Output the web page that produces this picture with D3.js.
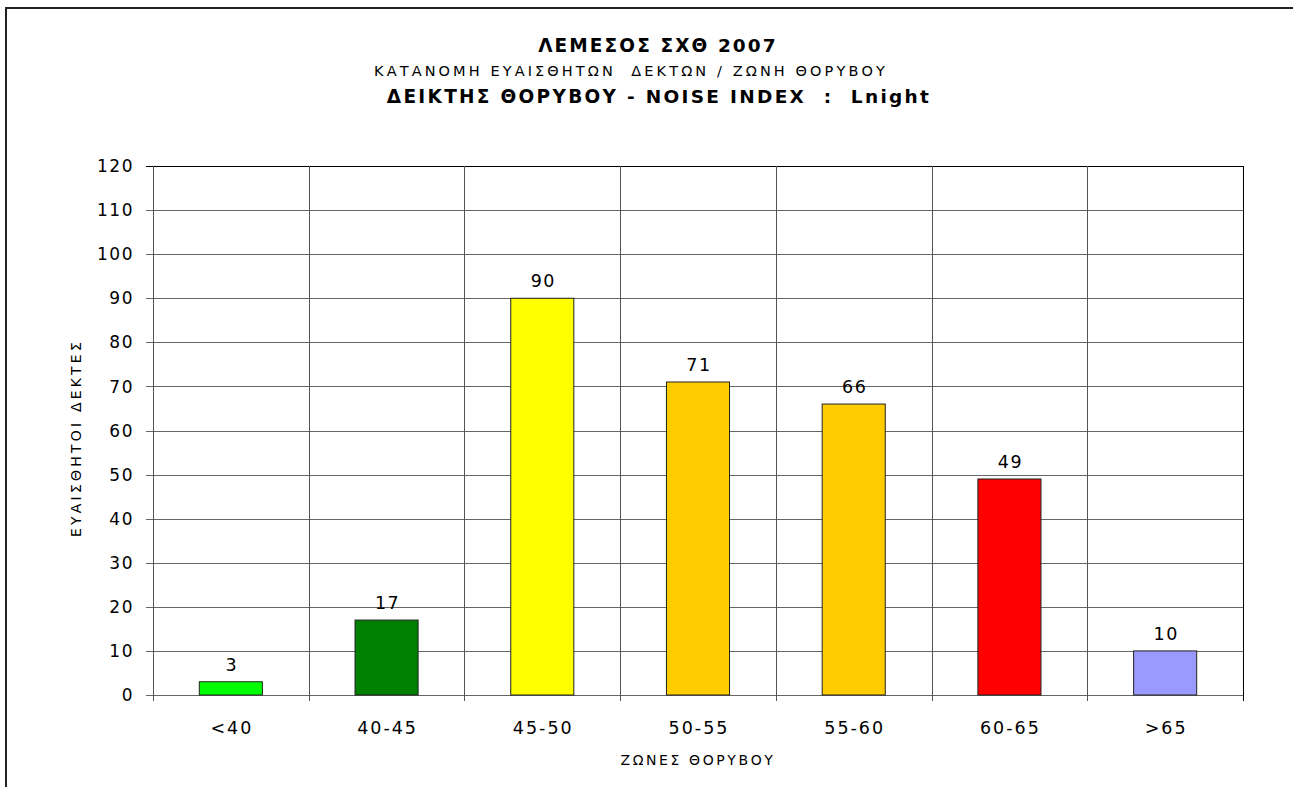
<!DOCTYPE html>
<html>
<head>
<meta charset="utf-8">
<script src="https://cdn.jsdelivr.net/npm/d3@7"></script>
<style>
body { margin: 0; background: #fff; }
svg text { font-family: "DejaVu Sans", Verdana, sans-serif; fill: #000; }
</style>
</head>
<body>
<svg width="1293" height="787"></svg>
<script>
var categories = ["<40", "40-45", "45-50", "50-55", "55-60", "60-65", ">65"];
var values = [3, 17, 90, 71, 66, 49, 10];
var barColors = ["#00ff00", "#008000", "#ffff00", "#ffcc00", "#ffcc00", "#ff0000", "#9999ff"];
var yTicks = [0, 10, 20, 30, 40, 50, 60, 70, 80, 90, 100, 110, 120];

var svg = d3.select("svg");

// outer frame
svg.append("path")
    .attr("d", "M6,787 L6,8 L1293,8")
    .attr("fill", "none")
    .attr("stroke", "#222")
    .attr("stroke-width", 2);

var plotL = 153, plotR = 1243, plotT = 166, plotB = 695;

var xScale = d3.scaleBand().domain(categories).range([plotL, plotR]);
var yScale = d3.scaleLinear().domain([0, 120]).range([plotB, plotT]);

// horizontal gridlines
svg.selectAll(".hgrid")
    .data(yTicks)
    .enter()
    .append("line")
    .attr("x1", plotL - 7)
    .attr("x2", plotR)
    .attr("y1", function (d) { return Math.round(yScale(d)) + 0.5; })
    .attr("y2", function (d) { return Math.round(yScale(d)) + 0.5; })
    .attr("stroke", function (d) { return d === 120 ? "#000" : "#666"; })
    .attr("stroke-width", 1);

// vertical gridlines at category borders
var borders = categories.map(function (c) { return xScale(c); });
svg.selectAll(".vgrid")
    .data(borders)
    .enter()
    .append("line")
    .attr("x1", function (d) { return Math.round(d) + 0.5; })
    .attr("x2", function (d) { return Math.round(d) + 0.5; })
    .attr("y1", plotT)
    .attr("y2", plotB + 6)
    .attr("stroke", "#555")
    .attr("stroke-width", 1);

// right border of plot
svg.append("line")
    .attr("x1", plotR + 0.5).attr("x2", plotR + 0.5)
    .attr("y1", plotT).attr("y2", plotB + 6)
    .attr("stroke", "#000");

// y tick labels
svg.selectAll(".ylab")
    .data(yTicks)
    .enter()
    .append("text")
    .attr("x", plotL - 19)
    .attr("y", function (d) { return yScale(d); })
    .attr("dy", "0.36em")
    .attr("text-anchor", "end")
    .style("font-size", "17px")
    .style("letter-spacing", "1.5px")
    .text(function (d) { return d; });

// bars
var bw = xScale.bandwidth() * 0.405;
svg.selectAll(".bar")
    .data(values)
    .enter()
    .append("rect")
    .attr("x", function (d, i) { return xScale(categories[i]) + xScale.bandwidth() / 2 - bw / 2; })
    .attr("y", function (d) { return yScale(d); })
    .attr("width", bw)
    .attr("height", function (d) { return yScale(0) - yScale(d); })
    .attr("fill", function (d, i) { return barColors[i]; })
    .attr("stroke", "#222")
    .attr("stroke-width", 1);

// value labels
svg.selectAll(".val")
    .data(values)
    .enter()
    .append("text")
    .attr("x", function (d, i) { return xScale(categories[i]) + xScale.bandwidth() / 2 + 1; })
    .attr("y", function (d) { return yScale(d) - 11; })
    .attr("text-anchor", "middle")
    .style("font-size", "17.5px")
    .style("letter-spacing", "1.5px")
    .text(function (d) { return d; });

// category labels
svg.selectAll(".cat")
    .data(categories)
    .enter()
    .append("text")
    .attr("x", function (d) { return xScale(d) + xScale.bandwidth() / 2 + 1; })
    .attr("y", 734)
    .attr("text-anchor", "middle")
    .style("font-size", "17.5px")
    .style("letter-spacing", "2px")
    .text(function (d) { return d; });

// axis titles
svg.append("text")
    .attr("x", (plotL + plotR) / 2)
    .attr("y", 765)
    .attr("text-anchor", "middle")
    .style("font-size", "14px")
    .style("letter-spacing", "2.6px")
    .text("ΖΩΝΕΣ ΘΟΡΥΒΟΥ");

svg.append("text")
    .attr("transform", "translate(81,438) rotate(-90)")
    .attr("text-anchor", "middle")
    .style("font-size", "14px")
    .style("letter-spacing", "3.2px")
    .text("ΕΥΑΙΣΘΗΤΟΙ ΔΕΚΤΕΣ");

// titles
svg.append("text")
    .attr("x", 658).attr("y", 52)
    .attr("text-anchor", "middle")
    .style("font-size", "18.5px")
    .style("font-weight", "bold")
    .style("letter-spacing", "2.1px")
    .text("ΛΕΜΕΣΟΣ ΣΧΘ 2007");

svg.append("text")
    .attr("x", 631).attr("y", 76)
    .attr("text-anchor", "middle")
    .style("font-size", "14.5px")
    .style("letter-spacing", "3.1px")
    .style("white-space", "pre")
    .text("ΚΑΤΑΝΟΜΗ ΕΥΑΙΣΘΗΤΩΝ  ΔΕΚΤΩΝ / ΖΩΝΗ ΘΟΡΥΒΟΥ");

svg.append("text")
    .attr("x", 659).attr("y", 103)
    .attr("text-anchor", "middle")
    .style("font-size", "18.5px")
    .style("font-weight", "bold")
    .style("letter-spacing", "2.3px")
    .style("white-space", "pre")
    .text("ΔΕΙΚΤΗΣ ΘΟΡΥΒΟΥ - NOISE INDEX  :  Lnight");
</script>
</body>
</html>
